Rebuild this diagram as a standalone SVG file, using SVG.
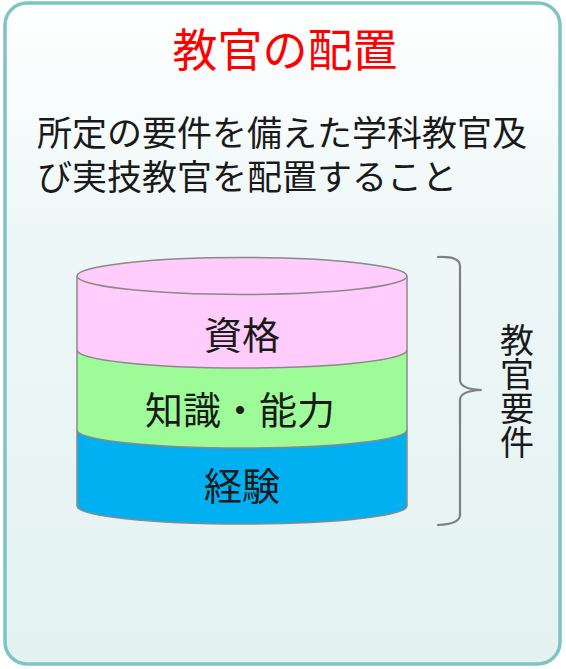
<svg xmlns="http://www.w3.org/2000/svg" width="566" height="669" viewBox="0 0 566 669">
  <defs>
    <linearGradient id="bg" x1="0" y1="0" x2="0" y2="1">
      <stop offset="0" stop-color="#ffffff"/>
      <stop offset="0.35" stop-color="#eef7f7"/>
      <stop offset="1" stop-color="#e3f2f1"/>
    </linearGradient>
    <style>
      .jp { font-family: "Noto Sans CJK JP", "Noto Sans", sans-serif; }
      .title { font-size: 45px; fill: #ff0000; text-anchor: middle; }
      .sub { font-size: 35px; fill: #1a1a1a; }
      .layer { font-size: 38px; fill: #1a1a1a; text-anchor: middle; }
      .req { font-size: 34px; fill: #1a1a1a; writing-mode: vertical-rl; text-orientation: upright; }
      .edge { fill: none; stroke: #8a8a8a; stroke-width: 1.5; }
      .brace { fill: none; stroke: #808080; stroke-width: 2.2; stroke-linecap: round; stroke-linejoin: round; }
    </style>
  </defs>

  <g id="panel">
    <rect x="5" y="3" width="555" height="661" rx="22" ry="22" fill="url(#bg)" stroke="#7fc4c4" stroke-width="3.5"/>
  </g>

  <g id="title">
    <text class="jp title" x="285" y="67">教官の配置</text>
  </g>

  <g id="description">
    <text class="jp sub"><tspan x="37" y="146">所定の要件を備えた学科教官及</tspan><tspan x="37" y="190">び実技教官を配置すること</tspan></text>
  </g>

  <g id="cylinder">
    <g id="layer-experience">
      <path d="M77,430 L77,506 A165,18 0 0 0 407,506 L407,430 Z" fill="#00b0f0"/>
    </g>
    <g id="layer-knowledge">
      <path d="M77,350 L77,430 A165,18 0 0 0 407,430 L407,350 Z" fill="#9dfc98"/>
    </g>
    <g id="layer-qualification">
      <path d="M77,276 L77,350 A165,18 0 0 0 407,350 L407,276 Z" fill="#ffccfb"/>
      <ellipse cx="242" cy="276" rx="165" ry="18.5" fill="#ffccfb"/>
    </g>
    <path class="edge" d="M77,276 L77,506 A165,18 0 0 0 407,506 L407,276"/>
    <path class="edge" d="M77,350 A165,18 0 0 0 407,350"/>
    <path class="edge" d="M77,430 A165,18 0 0 0 407,430"/>
    <ellipse class="edge" cx="242" cy="276" rx="165" ry="18.5"/>
    <text class="jp layer" x="242" y="349">資格</text>
    <text class="jp layer" x="240" y="424">知識・能力</text>
    <text class="jp layer" x="242" y="500">経験</text>
  </g>

  <g id="connectors">
    <path class="brace" d="M438,257 Q460,256 460,266 L460,380 Q460,389 481,390 Q460,391 460,400 L460,515 Q460,524 438,525"/>
  </g>

  <g id="requirements">
    <text class="jp req" x="517" y="323">教官要件</text>
  </g>
</svg>
